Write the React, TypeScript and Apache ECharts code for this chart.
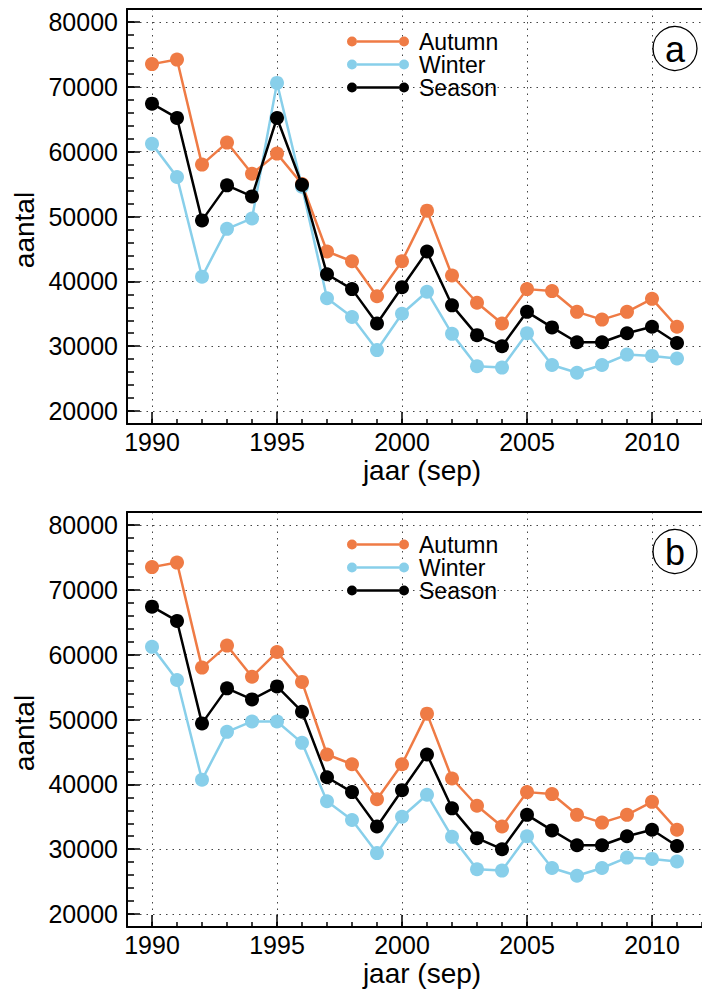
import React, { useEffect, useRef } from "react";
import * as echarts from "echarts";

// Survey years (September of each year)
const years = [
  1990, 1991, 1992, 1993, 1994, 1995, 1996, 1997, 1998, 1999, 2000,
  2001, 2002, 2003, 2004, 2005, 2006, 2007, 2008, 2009, 2010, 2011,
];

// Panel (a)
const autumnA = [
  73500, 74200, 58000, 61400, 56600, 59700, 55000, 44600, 43100, 37700, 43100,
  50900, 40900, 36700, 33500, 38800, 38500, 35300, 34100, 35300, 37300, 33000,
];
const winterA = [
  61200, 56100, 40700, 48100, 49700, 70600, 54600, 37400, 34500, 29400, 35000,
  38400, 31900, 26900, 26700, 32000, 27100, 25900, 27100, 28700, 28500, 28100,
];
const seasonA = [
  67400, 65200, 49400, 54800, 53100, 65200, 54900, 41100, 38800, 33500, 39100,
  44600, 36300, 31700, 30000, 35300, 32900, 30600, 30600, 32000, 33000, 30500,
];

// Panel (b)
const autumnB = [
  73500, 74200, 58000, 61400, 56600, 60400, 55800, 44600, 43100, 37700, 43100,
  50900, 40900, 36700, 33500, 38800, 38500, 35300, 34100, 35300, 37300, 33000,
];
const winterB = [
  61200, 56100, 40700, 48100, 49700, 49700, 46400, 37400, 34500, 29400, 35000,
  38400, 31900, 26900, 26700, 32000, 27100, 25900, 27100, 28700, 28500, 28100,
];
const seasonB = [
  67400, 65200, 49400, 54800, 53100, 55100, 51200, 41100, 38800, 33500, 39100,
  44600, 36300, 31700, 30000, 35300, 32900, 30600, 30600, 32000, 33000, 30500,
];

// Axis tick labels
const xTickLabels = [1990, 1995, 2000, 2005, 2010];
const yTickLabels = [20000, 30000, 40000, 50000, 60000, 70000, 80000];

const seriesNames = ["Autumn", "Winter", "Season"];
const panelLetters = ["a", "b"];

const FONT = '"Liberation Sans", Arial, Helvetica, sans-serif';
const COLORS = ["#EF7B45", "#88CFEA", "#000000"];

const X_MIN = 1989;
const X_MAX = 2012;
const Y_MIN = 18000;
const Y_MAX = 82000;

const GRID_LEFT = 127;
const GRID_WIDTH = 583;
const GRID_HEIGHT = 415;
const PANEL_TOPS = [9, 512];

// dot — line — dot legend glyph
const LEGEND_ICON =
  "path://M0,5A5,5 0 1,0 10,5A5,5 0 1,0 0,5Z M10,3.75L52,3.75L52,6.25L10,6.25Z M52,5A5,5 0 1,0 62,5A5,5 0 1,0 52,5Z";

const dottedGrid = { type: [1.5, 5] as number[], color: "#444", width: 1 };

function buildPanel(i: number, top: number, values: number[][]) {
  const grid = { left: GRID_LEFT, top, width: GRID_WIDTH, height: GRID_HEIGHT };

  const xAxes = [
    {
      type: "value",
      gridIndex: i,
      position: "bottom",
      min: X_MIN,
      max: X_MAX,
      interval: 1,
      axisLine: { show: true, onZero: false, lineStyle: { color: "#000", width: 2 } },
      axisTick: { show: true, inside: true, length: 5, lineStyle: { color: "#000", width: 1.5 } },
      axisLabel: { show: false },
      splitLine: { show: false },
    },
    {
      type: "value",
      gridIndex: i,
      position: "bottom",
      min: X_MIN,
      max: X_MAX,
      axisLine: { show: false, onZero: false },
      axisTick: {
        show: true,
        inside: true,
        length: 12,
        customValues: xTickLabels,
        lineStyle: { color: "#000", width: 1.5 },
      },
      axisLabel: {
        show: true,
        customValues: xTickLabels,
        margin: 5,
        fontSize: 25,
        fontFamily: FONT,
        color: "#000",
        formatter: (v: number) => String(v),
      },
      splitLine: { show: true, lineStyle: dottedGrid },
    },
    {
      type: "value",
      gridIndex: i,
      position: "top",
      min: X_MIN,
      max: X_MAX,
      axisLine: { show: true, onZero: false, lineStyle: { color: "#000", width: 2 } },
      axisTick: { show: false },
      axisLabel: { show: false },
      splitLine: { show: false },
    },
  ];

  const yAxes = [
    {
      type: "value",
      gridIndex: i,
      position: "left",
      min: Y_MIN,
      max: Y_MAX,
      interval: 2000,
      axisLine: { show: true, onZero: false, lineStyle: { color: "#000", width: 2 } },
      axisTick: { show: true, inside: true, length: 7, lineStyle: { color: "#000", width: 1.5 } },
      axisLabel: { show: false },
      splitLine: { show: false },
    },
    {
      type: "value",
      gridIndex: i,
      position: "left",
      min: Y_MIN,
      max: Y_MAX,
      axisLine: { show: false, onZero: false },
      axisTick: {
        show: true,
        inside: true,
        length: 13,
        customValues: yTickLabels,
        lineStyle: { color: "#000", width: 1.5 },
      },
      axisLabel: {
        show: true,
        customValues: yTickLabels,
        margin: 9,
        fontSize: 25,
        fontFamily: FONT,
        color: "#000",
        formatter: (v: number) => String(v),
      },
      splitLine: { show: true, lineStyle: dottedGrid },
    },
  ];

  const series = seriesNames.map((name, k) => ({
    type: "line",
    name,
    xAxisIndex: i * 3 + 1,
    yAxisIndex: i * 2 + 1,
    data: years.map((yr, j) => [yr, values[k][j]]),
    symbol: "circle",
    symbolSize: 14,
    showSymbol: true,
    lineStyle: { color: COLORS[k], width: 2.5 },
    itemStyle: { color: COLORS[k] },
    z: 3 + k,
  }));

  const legend = {
    orient: "vertical",
    left: 342,
    top: top + 16,
    itemWidth: 62,
    itemHeight: 10,
    itemGap: 0,
    icon: LEGEND_ICON,
    selectedMode: false,
    textStyle: {
      fontSize: 23,
      lineHeight: 22.5,
      fontFamily: FONT,
      color: "#000",
      padding: [0, 0, 0, 5],
    },
    data: seriesNames,
  };

  const graphics = [
    {
      type: "circle",
      shape: { cx: 675, cy: top + 39.5, r: 22 },
      style: { fill: "#fff", stroke: "#000", lineWidth: 1.3 },
      z: 10,
    },
    {
      type: "text",
      x: 675,
      y: top + 40,
      style: {
        text: panelLetters[i],
        font: `36px ${FONT}`,
        fill: "#000",
        align: "center",
        verticalAlign: "middle",
      },
      z: 11,
    },
    {
      type: "text",
      x: 24,
      y: top + 221,
      rotation: Math.PI / 2,
      style: {
        text: "aantal",
        font: `28px ${FONT}`,
        fill: "#000",
        align: "center",
        verticalAlign: "middle",
      },
    },
    {
      type: "text",
      x: 422,
      y: top + 461,
      style: {
        text: "jaar (sep)",
        font: `28px ${FONT}`,
        fill: "#000",
        align: "center",
        verticalAlign: "middle",
      },
    },
  ];

  return { grid, xAxes, yAxes, series, legend, graphics };
}

export default function App() {
  const ref = useRef<HTMLDivElement>(null);

  useEffect(() => {
    if (!ref.current) return;
    const chart = echarts.init(ref.current, undefined, { renderer: "svg" });

    const panels = [
      buildPanel(0, PANEL_TOPS[0], [autumnA, winterA, seasonA]),
      buildPanel(1, PANEL_TOPS[1], [autumnB, winterB, seasonB]),
    ];

    chart.setOption({
      animation: false,
      backgroundColor: "#fff",
      grid: panels.map((p) => p.grid),
      xAxis: panels.flatMap((p) => p.xAxes),
      yAxis: panels.flatMap((p) => p.yAxes),
      series: panels.flatMap((p) => p.series),
      legend: panels.map((p) => p.legend),
      graphic: panels.flatMap((p) => p.graphics),
    });

    return () => chart.dispose();
  }, []);

  return (
    <div
      ref={ref}
      style={{ position: "fixed", left: 0, top: 0, width: 702, height: 994 }}
    />
  );
}
